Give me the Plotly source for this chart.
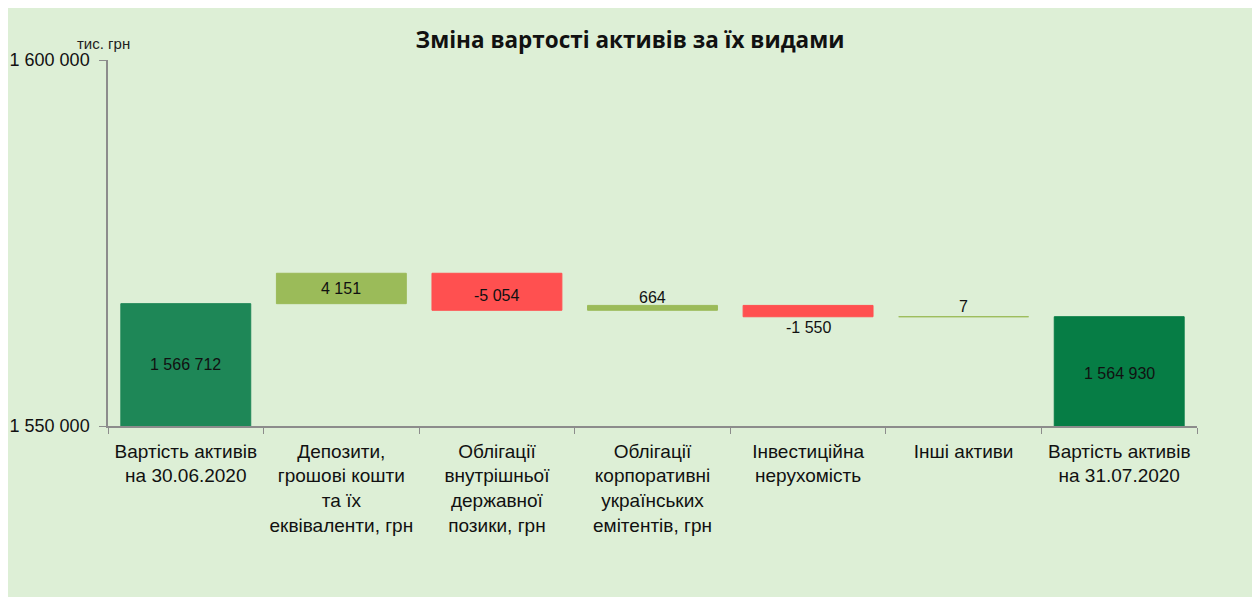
import plotly.graph_objects as go

categories = [
    "Вартість активів<br>на 30.06.2020",
    "Депозити,<br>грошові кошти<br>та їх<br>еквіваленти, грн",
    "Облігації<br>внутрішньої<br>державної<br>позики, грн",
    "Облігації<br>корпоративні<br>українських<br>емітентів, грн",
    "Інвестиційна<br>нерухомість",
    "Інші активи",
    "Вартість активів<br>на 31.07.2020",
]
values = [1566712, 4151, -5054, 664, -1550, 7, 1564930]
measures = ["total", "relative", "relative", "relative", "relative", "relative", "total"]
y_range = [1550000, 1600000]
y_tick_vals = [1550000, 1600000]
y_tick_text = ["1 550 000", "1 600 000"]

colors = ["#1E8757", "#9BBB59", "#FF5050", "#9BBB59", "#FF5050", "#9BBB59", "#067D45"]
label_pos = ["mid", "mid", "mid", "top", "bottom", "top", "mid"]
label_shift = [0, 0, -4, -3, 0, 0, -2]

# compute bases
bases, heights = [], []
running = 0
for v, m in zip(values, measures):
    if m == "total":
        bases.append(0)
        heights.append(v)
        running = v
    else:
        bases.append(running)
        heights.append(v)
        running += v

OFF = 8  # page body margin
W, H = 1247, 589
L, T = 108 - OFF, 60 - OFF
R = (OFF + W) - 1197
B = (OFF + H) - 426
pw, ph = W - L - R, H - T - B
BG = "#DDEFD6"

fig = go.Figure()
fig.add_trace(go.Bar(
    x=categories, y=heights, base=bases,
    marker=dict(color=colors, line=dict(color=colors, width=1)),
    width=0.835, hoverinfo="skip", showlegend=False,
))

annotations = []
for i, (c, b, h) in enumerate(zip(categories, bases, heights)):
    lo, hi = min(b, b + h), max(b, b + h)
    txt = f"{values[i]:,}".replace(",", " ")
    if label_pos[i] == "mid":
        y = (max(lo, y_range[0]) + hi) / 2
        ya = "middle"
    elif label_pos[i] == "top":
        y = hi
        ya = "bottom"
    else:
        y = lo
        ya = "top"
    annotations.append(dict(x=c, y=y, xref="x", yref="y", text=txt, showarrow=False,
                            yanchor=ya, yshift=label_shift[i],
                            font=dict(family="Liberation Sans", size=16, color="#111")))

annotations.append(dict(x=(103 - 108) / pw, y=(426 - 43) / ph, xref="paper", yref="paper",
                        text="тис. грн", showarrow=False, xanchor="center", yanchor="middle",
                        font=dict(family="Liberation Sans", size=15, color="#222")))

fig.update_layout(
    width=W, height=H,
    margin=dict(l=L, r=R, t=T, b=B, pad=0),
    paper_bgcolor=BG, plot_bgcolor=BG,
    title=dict(text="<b>Зміна вартості активів за їх видами</b>", x=(630 - OFF) / W, xanchor="center",
               y=1 - (40 - OFF) / H, yanchor="middle",
               font=dict(family="Open Sans", size=22.5, color="#111")),
    font=dict(family="Liberation Sans", size=17, color="#111"),
    annotations=annotations,
    xaxis=dict(showline=True, linecolor="#8C8C8C", linewidth=1.5, ticks="outside",
               tickson="boundaries", ticklen=6, tickcolor="#8C8C8C", showgrid=False,
               tickfont=dict(size=19), ticklabelstandoff=7, automargin=False,
               fixedrange=True),
    yaxis=dict(range=y_range, tickvals=y_tick_vals, ticktext=y_tick_text,
               showline=True, linecolor="#8C8C8C", linewidth=1.5, ticks="outside",
               ticklen=7, tickcolor="#8C8C8C", showgrid=False, zeroline=False,
               tickfont=dict(size=18), ticklabelstandoff=6, automargin=False),
)

fig.write_html("out.html")
